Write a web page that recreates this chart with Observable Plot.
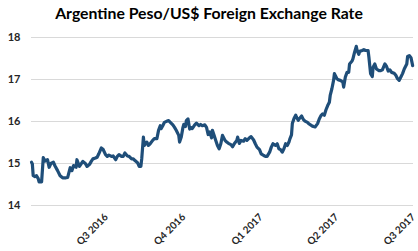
<!DOCTYPE html>
<html>
<head>
<meta charset="utf-8">
<script src="https://cdn.jsdelivr.net/npm/d3@7"></script>
<script src="https://cdn.jsdelivr.net/npm/@observablehq/plot@0.6"></script>
<style>
  html, body { margin: 0; padding: 0; background: #fff; }
  #wrap { width: 418px; height: 251px; overflow: hidden; }
  #title { height: 28px; line-height: 26px; text-align: center; font-family: Lato, "Open Sans", sans-serif; font-weight: bold; font-size: 15.8px; color: #000; }
  svg { display: block; }
</style>
</head>
<body>
<div id="wrap">
  <div id="title">Argentine Peso/US$ Foreign Exchange Rate</div>
  <div id="chart"></div>
</div>
<script>
const title = "Argentine Peso/US$ Foreign Exchange Rate";
const dates = [
"2016-04-03","2016-04-04","2016-04-05","2016-04-07","2016-04-09","2016-04-11","2016-04-12","2016-04-15","2016-04-17","2016-04-19",
"2016-04-22","2016-04-24","2016-04-26","2016-04-29","2016-05-01","2016-05-04","2016-05-07","2016-05-10","2016-05-14","2016-05-16",
"2016-05-19","2016-05-21","2016-05-23","2016-05-26","2016-05-27","2016-05-30","2016-06-01","2016-06-03","2016-06-06","2016-06-08",
"2016-06-11","2016-06-13","2016-06-15","2016-06-18","2016-06-20","2016-06-22","2016-06-25","2016-06-27","2016-06-30","2016-07-02",
"2016-07-04","2016-07-07","2016-07-09","2016-07-12","2016-07-14","2016-07-16","2016-07-19","2016-07-21","2016-07-23","2016-07-26",
"2016-07-28","2016-07-31","2016-08-02","2016-08-04","2016-08-07","2016-08-09","2016-08-11","2016-08-12","2016-08-14","2016-08-15",
"2016-08-18","2016-08-20","2016-08-22","2016-08-25","2016-08-27","2016-08-30","2016-09-01","2016-09-03","2016-09-04","2016-09-06",
"2016-09-08","2016-09-11","2016-09-13","2016-09-15","2016-09-18","2016-09-20","2016-09-22","2016-09-25","2016-09-26","2016-09-28",
"2016-09-30","2016-10-01","2016-10-03","2016-10-04","2016-10-06","2016-10-08","2016-10-09","2016-10-11","2016-10-14","2016-10-16",
"2016-10-19","2016-10-21","2016-10-23","2016-10-26","2016-10-28","2016-10-30","2016-11-01","2016-11-03","2016-11-04","2016-11-06",
"2016-11-08","2016-11-10","2016-11-12","2016-11-14","2016-11-16","2016-11-19","2016-11-21","2016-11-23","2016-11-26","2016-11-28",
"2016-11-30","2016-12-03","2016-12-04","2016-12-06","2016-12-08","2016-12-11","2016-12-13","2016-12-15","2016-12-18","2016-12-20",
"2016-12-23","2016-12-25","2016-12-27","2016-12-30","2017-01-01","2017-01-04","2017-01-06","2017-01-08","2017-01-11","2017-01-13",
"2017-01-15","2017-01-18","2017-01-20","2017-01-22","2017-01-24","2017-01-26","2017-01-28","2017-01-30","2017-02-01","2017-02-03",
"2017-02-04","2017-02-06","2017-02-07","2017-02-09","2017-02-11","2017-02-12","2017-02-14","2017-02-15","2017-02-18","2017-02-20",
"2017-02-22","2017-02-25","2017-02-27","2017-03-02","2017-03-04","2017-03-06","2017-03-09","2017-03-11","2017-03-13","2017-03-15",
"2017-03-17","2017-03-19","2017-03-21","2017-03-23","2017-03-24","2017-03-26","2017-03-28","2017-03-29","2017-04-01","2017-04-03",
"2017-04-05","2017-04-08","2017-04-09","2017-04-11","2017-04-13","2017-04-15","2017-04-16","2017-04-19","2017-04-20","2017-04-22",
"2017-04-24","2017-04-25","2017-04-27","2017-04-28","2017-05-01","2017-05-03","2017-05-05","2017-05-08","2017-05-09","2017-05-11",
"2017-05-13","2017-05-14","2017-05-16","2017-05-18","2017-05-21","2017-05-23","2017-05-25","2017-05-28","2017-05-30","2017-06-01",
"2017-06-03","2017-06-05","2017-06-08","2017-06-10","2017-06-12","2017-06-14","2017-06-16","2017-06-18","2017-06-20","2017-06-23",
"2017-06-24","2017-06-26","2017-06-28","2017-06-30"
];
const rates = [
15.03,14.99,14.71,14.69,14.71,14.64,14.56,14.56,15.14,15.06,
15.09,14.91,15.00,15.03,14.94,14.83,14.71,14.66,14.66,14.67,
14.90,14.83,14.95,14.91,15.09,14.93,14.99,15.05,15.00,14.93,
14.98,15.05,15.11,15.13,15.15,15.23,15.37,15.34,15.21,15.17,
15.20,15.17,15.18,15.09,15.17,15.21,15.17,15.17,15.25,15.18,
15.17,15.11,15.11,15.07,15.02,14.93,14.93,15.11,15.63,15.43,
15.51,15.43,15.47,15.55,15.59,15.59,15.79,15.90,15.83,15.90,
15.98,16.01,16.02,15.98,15.92,15.86,15.79,15.67,15.51,15.63,
15.86,15.93,15.88,16.02,16.06,15.82,15.86,15.83,15.92,15.96,
15.90,15.93,15.90,15.92,15.86,15.69,15.75,15.61,15.79,15.67,
15.55,15.43,15.35,15.47,15.67,15.55,15.51,15.48,15.45,15.40,
15.47,15.55,15.63,15.48,15.55,15.53,15.59,15.55,15.61,15.64,
15.56,15.47,15.39,15.33,15.23,15.19,15.17,15.17,15.27,15.39,
15.47,15.43,15.47,15.35,15.33,15.27,15.35,15.47,15.43,15.51,
15.58,15.68,15.95,16.07,16.15,16.10,16.03,16.06,16.13,16.05,
16.01,15.98,15.94,15.90,15.88,15.87,15.95,16.06,16.14,16.18,
16.15,16.28,16.38,16.46,16.62,16.78,16.98,17.14,17.02,16.99,
16.98,16.94,16.82,17.06,17.17,17.17,17.37,17.44,17.49,17.65,
17.79,17.69,17.60,17.67,17.69,17.71,17.69,17.69,17.53,17.14,
17.07,17.29,17.37,17.25,17.21,17.21,17.23,17.37,17.31,17.20,
17.23,17.17,17.15,17.10,17.02,16.98,17.06,17.14,17.25,17.37,
17.55,17.57,17.52,17.33
];
const yTicks = [14, 15, 16, 17, 18];
const quarterDates = ["2016-07-01","2016-10-01","2017-01-01","2017-04-01","2017-07-01"];
const quarterLabels = ["Q3 2016","Q4 2016","Q1 2017","Q2 2017","Q3 2017"];
const xStart = "2016-04-03", xEnd = "2017-07-01";

const data = dates.map((d, i) => ({date: new Date(d), rate: rates[i]}));
const qd = quarterDates.map(d => new Date(d));

const chart = Plot.plot({
  width: 418,
  height: 223,
  marginTop: 9,
  marginBottom: 46,
  marginLeft: 31,
  marginRight: 5,
  style: {fontFamily: "Lato, 'Open Sans', sans-serif", color: "#262626", background: "#fff"},
  x: {type: "utc", domain: [new Date(xStart), new Date(xEnd)]},
  y: {domain: [14, 18]},
  marks: [
    Plot.gridY(yTicks, {stroke: "#d9d9d9", strokeOpacity: 1, strokeWidth: 1}),
    Plot.axisY(yTicks, {tickSize: 0, tickPadding: 11, fontSize: 11, fontWeight: "bold", label: null, tickFormat: d => String(d)}),
    Plot.axisX(qd, {tickSize: 0, tickPadding: 10, tickRotate: -45, fontSize: 10, fontWeight: "bold", label: null,
      tickFormat: (d, i) => quarterLabels[quarterDates.findIndex(q => +new Date(q) === +d)]}),
    Plot.lineY(data, {x: "date", y: "rate", stroke: "#1f4e79", strokeWidth: 3.2, curve: "linear"})
  ]
});
document.getElementById("chart").appendChild(chart);
</script>
</body>
</html>
